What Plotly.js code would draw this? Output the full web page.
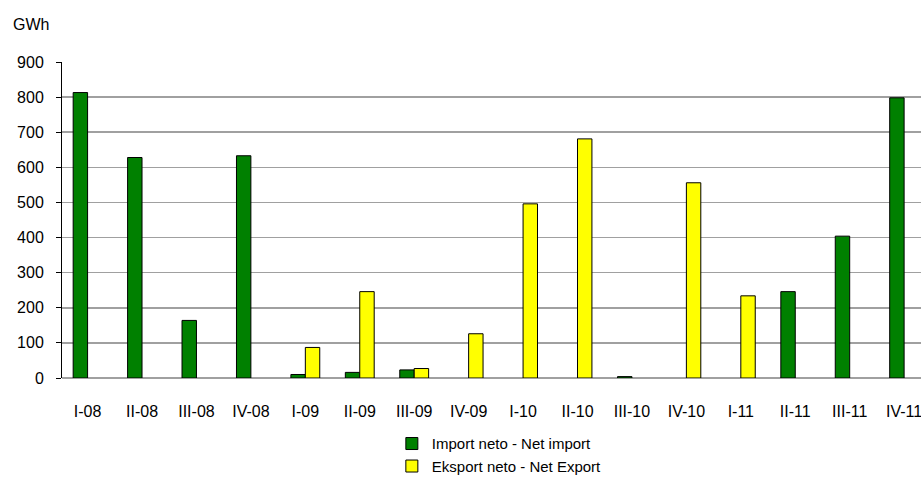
<!DOCTYPE html>
<html>
<head>
<meta charset="utf-8">
<script src="https://cdn.plot.ly/plotly-3.0.1.min.js"></script>
<style>
html,body{margin:0;padding:0;background:#fff;overflow:hidden;}
#chart{width:921px;height:483px;}
</style>
</head>
<body>
<div id="chart"></div>
<script>
var categories = ["I-08","II-08","III-08","IV-08","I-09","II-09","III-09","IV-09","I-10","II-10","III-10","IV-10","I-11","II-11","III-11","IV-11"];
var netImport = [813, 628, 164, 633, 10, 16, 23, null, null, null, 4, null, null, 246, 404, 798];
var netExport = [null, null, null, null, 87, 246, 27, 126, 496, 681, null, 556, 234, null, null, null];
var seriesNames = ["Import neto - Net import", "Eksport neto - Net Export"];
var yTicks = [0,100,200,300,400,500,600,700,800,900];

var font = "Liberation Sans, Arial, sans-serif";
var traces = [
  {type:"bar", name:seriesNames[0], x:categories, y:netImport,
   marker:{color:"#008000", line:{color:"#000000", width:1}}},
  {type:"bar", name:seriesNames[1], x:categories, y:netExport,
   marker:{color:"#ffff00", line:{color:"#000000", width:1}}}
];
var layout = {
  width:921, height:483,
  margin:{l:62, r:0, t:62, b:105},
  paper_bgcolor:"#ffffff", plot_bgcolor:"#ffffff",
  font:{family:font, size:16, color:"#000"},
  barmode:"group", bargap:0.47, bargroupgap:0,
  showlegend:true,
  legend:{x:0.384, xanchor:"left", y:-0.33, yanchor:"bottom", orientation:"v",
          font:{family:font, size:15, color:"#000"}, tracegroupgap:0,
          bgcolor:"rgba(0,0,0,0)", borderwidth:0},
  xaxis:{type:"category", range:[-0.47, 15.31], showgrid:false, showline:false,
         zeroline:false, ticks:"", ticklabelstandoff:22,
         tickfont:{family:font, size:16, color:"#000"}},
  yaxis:{range:[0,900], tickvals:yTicks, showgrid:true, gridcolor:"#a0a0a0", gridwidth:1.5,
         showline:true, linecolor:"#000", linewidth:1, ticks:"outside", ticklen:5,
         tickcolor:"#000", zeroline:true, zerolinecolor:"#a0a0a0", zerolinewidth:1.5,
         tickfont:{family:font, size:16, color:"#000"}, ticklabelstandoff:9},
  annotations:[{text:"GWh", xref:"paper", yref:"paper", x:-0.059, y:1.12,
                xanchor:"left", yanchor:"middle", showarrow:false,
                font:{family:font, size:16, color:"#000"}}]
};
Plotly.newPlot("chart", traces, layout, {staticPlot:true, displayModeBar:false});
</script>
</body>
</html>
